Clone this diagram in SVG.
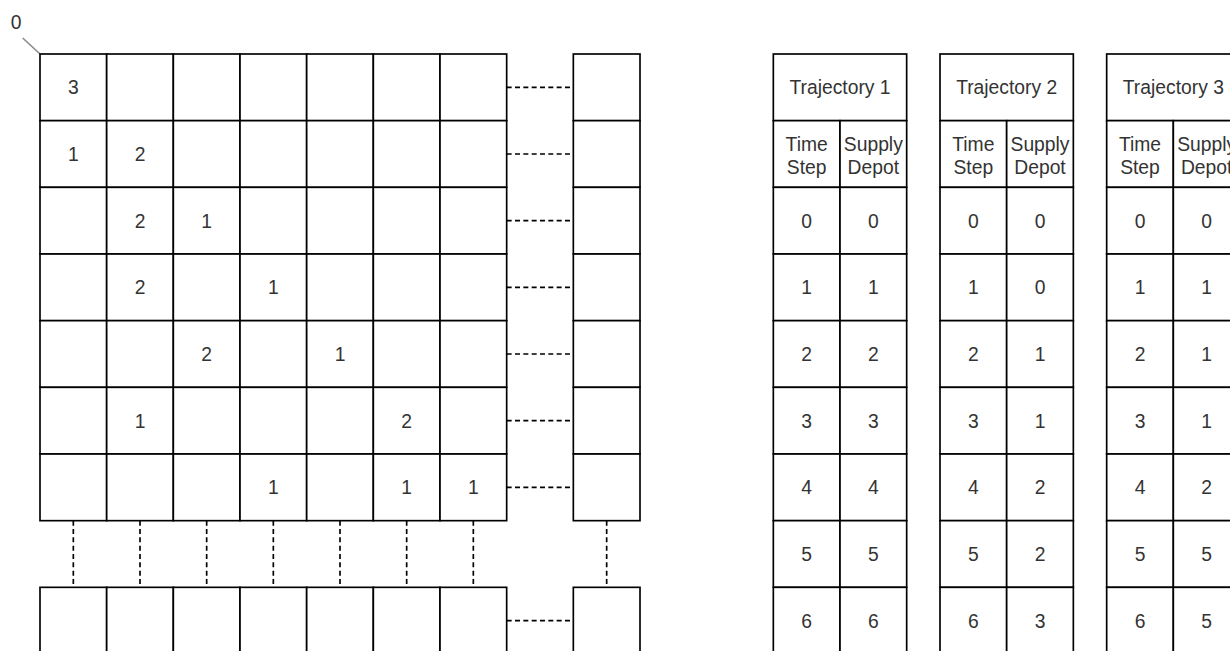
<svg xmlns="http://www.w3.org/2000/svg" width="1230" height="651" viewBox="0 0 1230 651">
<style>
.c{fill:#fff;stroke:#000;stroke-width:1.67}
.t{font-family:"Liberation Sans",Arial,Helvetica,sans-serif;font-size:19.3px;fill:#333;text-anchor:middle}
.d{stroke:#000;stroke-width:1.67;stroke-dasharray:5 3.33;fill:none}
</style>
<rect width="1230" height="651" fill="#fff"/>
<g id="label-0">
<line x1="22.7" y1="38" x2="40" y2="54" stroke="#8c8c8c" stroke-width="1.67"/>
<text class="t" x="16" y="29">0</text>
</g>
<g id="connectors">
<line class="d" x1="506.67" y1="87.33" x2="573.33" y2="87.33"/>
<line class="d" x1="506.67" y1="154" x2="573.33" y2="154"/>
<line class="d" x1="506.67" y1="220.67" x2="573.33" y2="220.67"/>
<line class="d" x1="506.67" y1="287.33" x2="573.33" y2="287.33"/>
<line class="d" x1="506.67" y1="354" x2="573.33" y2="354"/>
<line class="d" x1="506.67" y1="420.67" x2="573.33" y2="420.67"/>
<line class="d" x1="506.67" y1="487.33" x2="573.33" y2="487.33"/>
<line class="d" x1="506.67" y1="620.67" x2="573.33" y2="620.67"/>
<line class="d" x1="73.33" y1="520.67" x2="73.33" y2="587.33"/>
<line class="d" x1="140" y1="520.67" x2="140" y2="587.33"/>
<line class="d" x1="206.67" y1="520.67" x2="206.67" y2="587.33"/>
<line class="d" x1="273.33" y1="520.67" x2="273.33" y2="587.33"/>
<line class="d" x1="340" y1="520.67" x2="340" y2="587.33"/>
<line class="d" x1="406.67" y1="520.67" x2="406.67" y2="587.33"/>
<line class="d" x1="473.33" y1="520.67" x2="473.33" y2="587.33"/>
<line class="d" x1="606.67" y1="520.67" x2="606.67" y2="587.33"/>
</g>
<g id="grid">
<g id="row-0">
<rect class="c" x="40" y="54" width="66.67" height="66.67"/><text class="t" x="73.33" y="94.3">3</text>
<rect class="c" x="106.67" y="54" width="66.67" height="66.67"/>
<rect class="c" x="173.33" y="54" width="66.67" height="66.67"/>
<rect class="c" x="240" y="54" width="66.67" height="66.67"/>
<rect class="c" x="306.67" y="54" width="66.67" height="66.67"/>
<rect class="c" x="373.33" y="54" width="66.67" height="66.67"/>
<rect class="c" x="440" y="54" width="66.67" height="66.67"/>
<rect class="c" x="573.33" y="54" width="66.67" height="66.67"/>
</g>
<g id="row-1">
<rect class="c" x="40" y="120.67" width="66.67" height="66.67"/><text class="t" x="73.33" y="161">1</text>
<rect class="c" x="106.67" y="120.67" width="66.67" height="66.67"/><text class="t" x="140" y="161">2</text>
<rect class="c" x="173.33" y="120.67" width="66.67" height="66.67"/>
<rect class="c" x="240" y="120.67" width="66.67" height="66.67"/>
<rect class="c" x="306.67" y="120.67" width="66.67" height="66.67"/>
<rect class="c" x="373.33" y="120.67" width="66.67" height="66.67"/>
<rect class="c" x="440" y="120.67" width="66.67" height="66.67"/>
<rect class="c" x="573.33" y="120.67" width="66.67" height="66.67"/>
</g>
<g id="row-2">
<rect class="c" x="40" y="187.33" width="66.67" height="66.67"/>
<rect class="c" x="106.67" y="187.33" width="66.67" height="66.67"/><text class="t" x="140" y="227.6">2</text>
<rect class="c" x="173.33" y="187.33" width="66.67" height="66.67"/><text class="t" x="206.67" y="227.6">1</text>
<rect class="c" x="240" y="187.33" width="66.67" height="66.67"/>
<rect class="c" x="306.67" y="187.33" width="66.67" height="66.67"/>
<rect class="c" x="373.33" y="187.33" width="66.67" height="66.67"/>
<rect class="c" x="440" y="187.33" width="66.67" height="66.67"/>
<rect class="c" x="573.33" y="187.33" width="66.67" height="66.67"/>
</g>
<g id="row-3">
<rect class="c" x="40" y="254" width="66.67" height="66.67"/>
<rect class="c" x="106.67" y="254" width="66.67" height="66.67"/><text class="t" x="140" y="294.3">2</text>
<rect class="c" x="173.33" y="254" width="66.67" height="66.67"/>
<rect class="c" x="240" y="254" width="66.67" height="66.67"/><text class="t" x="273.33" y="294.3">1</text>
<rect class="c" x="306.67" y="254" width="66.67" height="66.67"/>
<rect class="c" x="373.33" y="254" width="66.67" height="66.67"/>
<rect class="c" x="440" y="254" width="66.67" height="66.67"/>
<rect class="c" x="573.33" y="254" width="66.67" height="66.67"/>
</g>
<g id="row-4">
<rect class="c" x="40" y="320.67" width="66.67" height="66.67"/>
<rect class="c" x="106.67" y="320.67" width="66.67" height="66.67"/>
<rect class="c" x="173.33" y="320.67" width="66.67" height="66.67"/><text class="t" x="206.67" y="361">2</text>
<rect class="c" x="240" y="320.67" width="66.67" height="66.67"/>
<rect class="c" x="306.67" y="320.67" width="66.67" height="66.67"/><text class="t" x="340" y="361">1</text>
<rect class="c" x="373.33" y="320.67" width="66.67" height="66.67"/>
<rect class="c" x="440" y="320.67" width="66.67" height="66.67"/>
<rect class="c" x="573.33" y="320.67" width="66.67" height="66.67"/>
</g>
<g id="row-5">
<rect class="c" x="40" y="387.33" width="66.67" height="66.67"/>
<rect class="c" x="106.67" y="387.33" width="66.67" height="66.67"/><text class="t" x="140" y="427.6">1</text>
<rect class="c" x="173.33" y="387.33" width="66.67" height="66.67"/>
<rect class="c" x="240" y="387.33" width="66.67" height="66.67"/>
<rect class="c" x="306.67" y="387.33" width="66.67" height="66.67"/>
<rect class="c" x="373.33" y="387.33" width="66.67" height="66.67"/><text class="t" x="406.67" y="427.6">2</text>
<rect class="c" x="440" y="387.33" width="66.67" height="66.67"/>
<rect class="c" x="573.33" y="387.33" width="66.67" height="66.67"/>
</g>
<g id="row-6">
<rect class="c" x="40" y="454" width="66.67" height="66.67"/>
<rect class="c" x="106.67" y="454" width="66.67" height="66.67"/>
<rect class="c" x="173.33" y="454" width="66.67" height="66.67"/>
<rect class="c" x="240" y="454" width="66.67" height="66.67"/><text class="t" x="273.33" y="494.3">1</text>
<rect class="c" x="306.67" y="454" width="66.67" height="66.67"/>
<rect class="c" x="373.33" y="454" width="66.67" height="66.67"/><text class="t" x="406.67" y="494.3">1</text>
<rect class="c" x="440" y="454" width="66.67" height="66.67"/><text class="t" x="473.33" y="494.3">1</text>
<rect class="c" x="573.33" y="454" width="66.67" height="66.67"/>
</g>
<g id="row-last">
<rect class="c" x="40" y="587.33" width="66.67" height="66.67"/>
<rect class="c" x="106.67" y="587.33" width="66.67" height="66.67"/>
<rect class="c" x="173.33" y="587.33" width="66.67" height="66.67"/>
<rect class="c" x="240" y="587.33" width="66.67" height="66.67"/>
<rect class="c" x="306.67" y="587.33" width="66.67" height="66.67"/>
<rect class="c" x="373.33" y="587.33" width="66.67" height="66.67"/>
<rect class="c" x="440" y="587.33" width="66.67" height="66.67"/>
<rect class="c" x="573.33" y="587.33" width="66.67" height="66.67"/>
</g>
</g>
<g id="trajectory-1">
<rect class="c" x="773.33" y="54" width="133.33" height="66.67"/><text class="t" x="840" y="94.3">Trajectory 1</text>
<rect class="c" x="773.33" y="120.67" width="66.67" height="66.67"/><text class="t" x="806.67" y="150.5">Time</text><text class="t" x="806.67" y="173.5">Step</text>
<rect class="c" x="840" y="120.67" width="66.67" height="66.67"/><text class="t" x="873.33" y="150.5">Supply</text><text class="t" x="873.33" y="173.5">Depot</text>
<rect class="c" x="773.33" y="187.33" width="66.67" height="66.67"/><text class="t" x="806.67" y="227.6">0</text>
<rect class="c" x="840" y="187.33" width="66.67" height="66.67"/><text class="t" x="873.33" y="227.6">0</text>
<rect class="c" x="773.33" y="254" width="66.67" height="66.67"/><text class="t" x="806.67" y="294.3">1</text>
<rect class="c" x="840" y="254" width="66.67" height="66.67"/><text class="t" x="873.33" y="294.3">1</text>
<rect class="c" x="773.33" y="320.67" width="66.67" height="66.67"/><text class="t" x="806.67" y="361">2</text>
<rect class="c" x="840" y="320.67" width="66.67" height="66.67"/><text class="t" x="873.33" y="361">2</text>
<rect class="c" x="773.33" y="387.33" width="66.67" height="66.67"/><text class="t" x="806.67" y="427.6">3</text>
<rect class="c" x="840" y="387.33" width="66.67" height="66.67"/><text class="t" x="873.33" y="427.6">3</text>
<rect class="c" x="773.33" y="454" width="66.67" height="66.67"/><text class="t" x="806.67" y="494.3">4</text>
<rect class="c" x="840" y="454" width="66.67" height="66.67"/><text class="t" x="873.33" y="494.3">4</text>
<rect class="c" x="773.33" y="520.67" width="66.67" height="66.67"/><text class="t" x="806.67" y="561">5</text>
<rect class="c" x="840" y="520.67" width="66.67" height="66.67"/><text class="t" x="873.33" y="561">5</text>
<rect class="c" x="773.33" y="587.33" width="66.67" height="66.67"/><text class="t" x="806.67" y="627.6">6</text>
<rect class="c" x="840" y="587.33" width="66.67" height="66.67"/><text class="t" x="873.33" y="627.6">6</text>
</g>
<g id="trajectory-2">
<rect class="c" x="940" y="54" width="133.33" height="66.67"/><text class="t" x="1006.67" y="94.3">Trajectory 2</text>
<rect class="c" x="940" y="120.67" width="66.67" height="66.67"/><text class="t" x="973.33" y="150.5">Time</text><text class="t" x="973.33" y="173.5">Step</text>
<rect class="c" x="1006.67" y="120.67" width="66.67" height="66.67"/><text class="t" x="1040" y="150.5">Supply</text><text class="t" x="1040" y="173.5">Depot</text>
<rect class="c" x="940" y="187.33" width="66.67" height="66.67"/><text class="t" x="973.33" y="227.6">0</text>
<rect class="c" x="1006.67" y="187.33" width="66.67" height="66.67"/><text class="t" x="1040" y="227.6">0</text>
<rect class="c" x="940" y="254" width="66.67" height="66.67"/><text class="t" x="973.33" y="294.3">1</text>
<rect class="c" x="1006.67" y="254" width="66.67" height="66.67"/><text class="t" x="1040" y="294.3">0</text>
<rect class="c" x="940" y="320.67" width="66.67" height="66.67"/><text class="t" x="973.33" y="361">2</text>
<rect class="c" x="1006.67" y="320.67" width="66.67" height="66.67"/><text class="t" x="1040" y="361">1</text>
<rect class="c" x="940" y="387.33" width="66.67" height="66.67"/><text class="t" x="973.33" y="427.6">3</text>
<rect class="c" x="1006.67" y="387.33" width="66.67" height="66.67"/><text class="t" x="1040" y="427.6">1</text>
<rect class="c" x="940" y="454" width="66.67" height="66.67"/><text class="t" x="973.33" y="494.3">4</text>
<rect class="c" x="1006.67" y="454" width="66.67" height="66.67"/><text class="t" x="1040" y="494.3">2</text>
<rect class="c" x="940" y="520.67" width="66.67" height="66.67"/><text class="t" x="973.33" y="561">5</text>
<rect class="c" x="1006.67" y="520.67" width="66.67" height="66.67"/><text class="t" x="1040" y="561">2</text>
<rect class="c" x="940" y="587.33" width="66.67" height="66.67"/><text class="t" x="973.33" y="627.6">6</text>
<rect class="c" x="1006.67" y="587.33" width="66.67" height="66.67"/><text class="t" x="1040" y="627.6">3</text>
</g>
<g id="trajectory-3">
<rect class="c" x="1106.67" y="54" width="133.33" height="66.67"/><text class="t" x="1173.33" y="94.3">Trajectory 3</text>
<rect class="c" x="1106.67" y="120.67" width="66.67" height="66.67"/><text class="t" x="1140" y="150.5">Time</text><text class="t" x="1140" y="173.5">Step</text>
<rect class="c" x="1173.33" y="120.67" width="66.67" height="66.67"/><text class="t" x="1206.67" y="150.5">Supply</text><text class="t" x="1206.67" y="173.5">Depot</text>
<rect class="c" x="1106.67" y="187.33" width="66.67" height="66.67"/><text class="t" x="1140" y="227.6">0</text>
<rect class="c" x="1173.33" y="187.33" width="66.67" height="66.67"/><text class="t" x="1206.67" y="227.6">0</text>
<rect class="c" x="1106.67" y="254" width="66.67" height="66.67"/><text class="t" x="1140" y="294.3">1</text>
<rect class="c" x="1173.33" y="254" width="66.67" height="66.67"/><text class="t" x="1206.67" y="294.3">1</text>
<rect class="c" x="1106.67" y="320.67" width="66.67" height="66.67"/><text class="t" x="1140" y="361">2</text>
<rect class="c" x="1173.33" y="320.67" width="66.67" height="66.67"/><text class="t" x="1206.67" y="361">1</text>
<rect class="c" x="1106.67" y="387.33" width="66.67" height="66.67"/><text class="t" x="1140" y="427.6">3</text>
<rect class="c" x="1173.33" y="387.33" width="66.67" height="66.67"/><text class="t" x="1206.67" y="427.6">1</text>
<rect class="c" x="1106.67" y="454" width="66.67" height="66.67"/><text class="t" x="1140" y="494.3">4</text>
<rect class="c" x="1173.33" y="454" width="66.67" height="66.67"/><text class="t" x="1206.67" y="494.3">2</text>
<rect class="c" x="1106.67" y="520.67" width="66.67" height="66.67"/><text class="t" x="1140" y="561">5</text>
<rect class="c" x="1173.33" y="520.67" width="66.67" height="66.67"/><text class="t" x="1206.67" y="561">5</text>
<rect class="c" x="1106.67" y="587.33" width="66.67" height="66.67"/><text class="t" x="1140" y="627.6">6</text>
<rect class="c" x="1173.33" y="587.33" width="66.67" height="66.67"/><text class="t" x="1206.67" y="627.6">5</text>
</g>
</svg>
